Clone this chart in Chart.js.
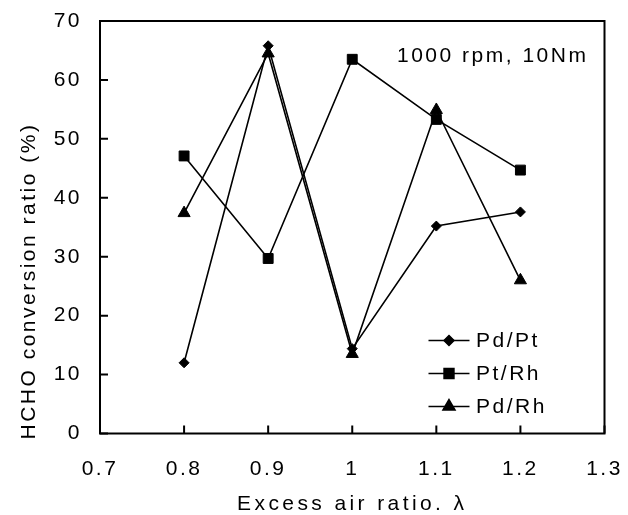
<!DOCTYPE html>
<html><head><meta charset="utf-8">
<script src="https://cdn.jsdelivr.net/npm/chart.js@4.4.0/dist/chart.umd.min.js"></script>
<style>html,body{margin:0;padding:0;background:#fff;} #wrap{width:628px;height:515px;}</style>
</head><body><div id="wrap"><canvas id="c" width="628" height="515"></canvas></div>
<script>
const lambdaValues = [0.8, 0.9, 1.0, 1.1, 1.2];
const seriesNames = ['Pd/Pt', 'Pt/Rh', 'Pd/Rh'];
const pdPt = [12.0, 65.8, 14.4, 35.2, 37.6];
const ptRh = [47.1, 29.7, 63.5, 53.3, 44.7];
const pdRh = [37.4, 64.5, 13.5, 54.9, 26.0];
const xTickLabels = ['0.7', '0.8', '0.9', '1', '1.1', '1.2', '1.3'];
const yTickLabels = ['0', '10', '20', '30', '40', '50', '60', '70'];
const annotationText = '1000 rpm, 10Nm';
const xTitle = 'Excess air ratio. \u03BB';
const yTitle = 'HCHO conversion ratio (%)';

const FONT = "'Liberation Sans', Arial, sans-serif";
const styles = [
  { pointStyle: 'rectRot', radius: 5 },
  { pointStyle: 'rect', radius: 7 },
  { pointStyle: 'triangle', radius: 7 }
];
const seriesValues = [pdPt, ptRh, pdRh];

const datasets = seriesNames.map((name, i) => ({
  label: name,
  data: lambdaValues.map((x, j) => ({ x: x, y: seriesValues[i][j] })),
  borderColor: '#000',
  backgroundColor: '#000',
  borderWidth: 1.6,
  pointStyle: styles[i].pointStyle,
  pointRadius: styles[i].radius,
  pointBackgroundColor: '#000',
  pointBorderColor: '#000',
  pointBorderWidth: 1,
  showLine: true,
  tension: 0,
  fill: false
}));

const spacingPlugin = {
  id: 'spacing',
  beforeDraw(chart) {
    chart.ctx.letterSpacing = '2.5px';
    const sx = chart.scales.x, sy = chart.scales.y;
    if (!sx._titlePatched) {
      const ox = sx.drawTitle.bind(sx);
      sx.drawTitle = function () {
        const c = this.ctx; c.save(); c.letterSpacing = '3.4px'; ox(); c.restore();
      };
      sx._titlePatched = true;
    }
    if (!sy._titlePatched) {
      const oy = sy.drawTitle.bind(sy);
      sy.drawTitle = function () {
        const c = this.ctx; c.save(); c.translate(0, 6); oy(); c.restore();
      };
      sy._titlePatched = true;
    }
  }
};

const framePlugin = {
  id: 'frame',
  afterDatasetsDraw(chart) {
    const { ctx, chartArea: a, scales } = chart;
    ctx.save();
    ctx.strokeStyle = '#000';
    ctx.lineWidth = 2;
    ctx.strokeRect(a.left, a.top, a.right - a.left, a.bottom - a.top);
    ctx.beginPath();
    scales.x.ticks.forEach(t => {
      const px = scales.x.getPixelForValue(t.value);
      ctx.moveTo(px, a.bottom); ctx.lineTo(px, a.bottom - 8);
    });
    scales.y.ticks.forEach(t => {
      const py = scales.y.getPixelForValue(t.value);
      ctx.moveTo(a.left, py); ctx.lineTo(a.left + 8, py);
    });
    ctx.stroke();

    // annotation
    ctx.fillStyle = '#000';
    ctx.font = '21px ' + FONT;
    ctx.letterSpacing = '2.5px';
    ctx.textAlign = 'left';
    ctx.textBaseline = 'alphabetic';
    ctx.fillText(annotationText, a.left + 297, a.top + 41);

    // legend
    chart.data.datasets.forEach((ds, i) => {
      const yy = a.bottom - 93 + i * 33;
      const x0 = a.right - 176, x1 = a.right - 135;
      ctx.beginPath();
      ctx.lineWidth = 1.5;
      ctx.strokeStyle = '#000';
      ctx.moveTo(x0, yy); ctx.lineTo(x1, yy);
      ctx.stroke();
      Chart.helpers.drawPoint(ctx, {
        pointStyle: ds.pointStyle, radius: ds.pointRadius, rotation: 0, borderWidth: 1
      }, (x0 + x1) / 2, yy);
      ctx.fill();
      ctx.textBaseline = 'middle';
      ctx.fillText(ds.label, a.right - 128.5, yy + 1);
    });
    ctx.restore();
  }
};

function labelFor(list, v) {
  const found = list.find(s => Math.abs(Number(s) - v) < 1e-6);
  return found === undefined ? '' : found;
}

new Chart(document.getElementById('c'), {
  type: 'line',
  data: { datasets: datasets },
  options: {
    responsive: false,
    animation: false,
    devicePixelRatio: 1,
    layout: { padding: { top: 21, right: 23.5, left: 0, bottom: 0 } },
    plugins: { legend: { display: false }, tooltip: { enabled: false } },
    scales: {
      x: {
        type: 'linear',
        min: 0.7, max: 1.3,
        afterFit(s) { s.height = 81.5; s.paddingLeft = 0; s.paddingRight = 0; },
        grid: { display: false, drawTicks: false },
        border: { display: false },
        ticks: {
          stepSize: 0.1, autoSkip: false, maxRotation: 0, padding: 23,
          color: '#000', font: { family: FONT, size: 21 },
          callback: (v) => labelFor(xTickLabels, v)
        },
        title: {
          display: true, text: xTitle, color: '#000',
          font: { family: FONT, size: 21, lineHeight: 1 },
          padding: { top: 0, bottom: 0 }
        }
      },
      y: {
        type: 'linear',
        min: 0, max: 70,
        afterFit(s) { s.width = 100; s.paddingTop = 0; s.paddingBottom = 0; },
        grid: { display: false, drawTicks: false },
        border: { display: false },
        ticks: {
          stepSize: 10, padding: 18,
          color: '#000', font: { family: FONT, size: 21 },
          callback: (v) => labelFor(yTickLabels, v)
        },
        title: {
          display: true, text: yTitle, color: '#000', align: 'start',
          font: { family: FONT, size: 21, lineHeight: 1 },
          padding: { top: 19, bottom: 0 }
        }
      }
    }
  },
  plugins: [spacingPlugin, framePlugin]
});
</script>
</body></html>
